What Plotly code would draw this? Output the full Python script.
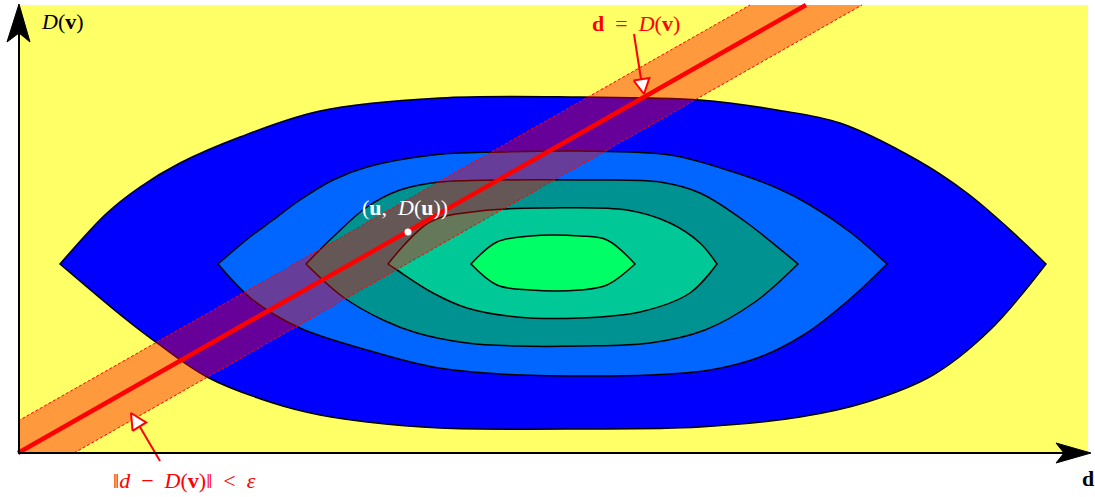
import plotly.graph_objects as go

# ---- canvas / diagram coordinates (pixel-like units, y grows downwards) ----
W, H = 1095, 497
PANEL_X = [19, 1088]
PANEL_Y = [5, 453]

# ---- nested level sets (top edge and bottom edge, left tip -> right tip) ----
BLUE_TOP_X = [60, 107, 140, 180, 240, 320, 440, 580, 700, 777, 840, 917, 967, 1007, 1046]
BLUE_TOP_Y = [264, 213, 187, 163, 137, 111, 98, 97, 100, 110, 123, 160, 193, 227, 264]
BLUE_BOT_X = [60, 123, 157, 207, 273, 320, 367, 440, 580, 700, 800, 867, 933, 990, 1046]
BLUE_BOT_Y = [264, 317, 343, 377, 403, 415, 422, 428, 429, 427, 417, 402, 375, 330, 264]

LBLUE_TOP_X = [218, 250, 273, 300, 333, 367, 433, 500, 580, 670, 727, 777, 810, 850, 887]
LBLUE_TOP_Y = [264, 237, 220, 200, 180, 167, 155, 152, 151, 155, 170, 188, 205, 232, 264]
LBLUE_BOT_X = [218, 253, 300, 367, 433, 500, 580, 650, 710, 760, 805, 850, 887]
LBLUE_BOT_Y = [264, 300, 328, 350, 367, 374, 376, 375, 370, 357, 334, 299, 264]

TEAL_TOP_X = [306, 333, 367, 400, 440, 500, 580, 660, 700, 743, 798]
TEAL_TOP_Y = [264, 237, 207, 190, 182, 180, 180, 182, 193, 220, 264]
TEAL_BOT_X = [306, 343, 383, 417, 467, 517, 580, 650, 705, 755, 798]
TEAL_BOT_Y = [264, 297, 320, 333, 343, 346, 346, 343, 330, 302, 264]

MINT_TOP_X = [388, 430, 480, 547, 627, 670, 700, 717]
MINT_TOP_Y = [264, 222, 211, 208, 210, 223, 243, 264]
MINT_BOT_X = [388, 397, 433, 467, 517, 580, 640, 690, 717]
MINT_BOT_Y = [264, 270, 293, 308, 317, 318, 312, 293, 264]

GREEN_TOP_X = [471, 497, 530, 580, 607, 635]
GREEN_TOP_Y = [264, 242, 236, 236, 240, 264]
GREEN_BOT_X = [471, 497, 530, 580, 607, 635]
GREEN_BOT_Y = [264, 285, 290, 290, 285, 264]

LEVELS = [
    ("#0000ff", BLUE_TOP_X, BLUE_TOP_Y, BLUE_BOT_X, BLUE_BOT_Y),
    ("#0066ff", LBLUE_TOP_X, LBLUE_TOP_Y, LBLUE_BOT_X, LBLUE_BOT_Y),
    ("#009191", TEAL_TOP_X, TEAL_TOP_Y, TEAL_BOT_X, TEAL_BOT_Y),
    ("#00c896", MINT_TOP_X, MINT_TOP_Y, MINT_BOT_X, MINT_BOT_Y),
    ("#00ff66", GREEN_TOP_X, GREEN_TOP_Y, GREEN_BOT_X, GREEN_BOT_Y),
]

# ---- line d = D(v) and its epsilon band ----
LINE_X = [18, 806]
LINE_Y = [453, 5]
BAND_X = [18, 750, 862, 74, 18]
BAND_Y = [421, 5, 5, 453, 453]
BAND_UPPER_X = [18, 750]
BAND_UPPER_Y = [421, 5]
BAND_LOWER_X = [74, 862]
BAND_LOWER_Y = [453, 5]

POINT_U = (408, 232)

# ---- callout arrows (open triangles) ----
TOP_ARROW_LINE_X = [634, 641]
TOP_ARROW_LINE_Y = [34, 79]
TOP_ARROW_HEAD_X = [633.6, 649.4, 644]
TOP_ARROW_HEAD_Y = [80.5, 77.9, 94]
BOT_ARROW_LINE_X = [160, 140]
BOT_ARROW_LINE_Y = [461, 427]
BOT_ARROW_HEAD_X = [132.6, 146.2, 131]
BOT_ARROW_HEAD_Y = [430.8, 422.4, 413]

# ---- axes arrows ----
VAXIS_X = [19, 19]
VAXIS_Y = [454, 32]
VHEAD_X = [19, 30, 19, 7]
VHEAD_Y = [4, 42, 33, 42]
HAXIS_X = [18, 1066]
HAXIS_Y = [453, 453]
HHEAD_X = [1091, 1056, 1064, 1056]
HHEAD_Y = [453, 443, 453, 463]

EN = "\u2002"
LABELS = [
    ("<i>D</i>(<b>v</b>)", 62, 21, "black"),
    ("<b>d</b>", 1088, 478, "black"),
    ("(<b>u</b>," + EN + "<i>D</i>(<b>u</b>))", 405, 207, "white"),
    ("<b>d</b>" + EN + "=" + EN + "<i>D</i>(<b>v</b>)", 636, 23, "red"),
    ("‖<i>d</i>" + EN + "−" + EN + "<i>D</i>(<b>v</b>)‖" + EN + "&lt;" + EN + "<i>ε</i>", 184, 480, "red"),
]

FONT = "Liberation Serif"

fig = go.Figure()

shapes = [dict(type="rect", xref="x", yref="y", x0=PANEL_X[0], x1=PANEL_X[1],
               y0=PANEL_Y[0], y1=PANEL_Y[1], fillcolor="#ffff66",
               line=dict(width=0), layer="below")]

for color, tx, ty, bx, by in LEVELS:
    L = (tx[0], ty[0])
    R = (tx[-1], ty[-1])
    xs = [L[0]] + tx[1:-1] + [R[0], R[0]] + bx[::-1][1:-1] + [L[0], L[0]]
    ys = [L[1]] + ty[1:-1] + [R[1], R[1]] + by[::-1][1:-1] + [L[1], L[1]]
    fig.add_trace(go.Scatter(x=xs, y=ys, mode="lines", fill="toself", fillcolor=color,
                             line=dict(color="black", width=1.5, shape="spline",
                                       smoothing=1, simplify=False),
                             hoverinfo="skip", showlegend=False))

# band
fig.add_trace(go.Scatter(x=BAND_X, y=BAND_Y, mode="lines", fill="toself",
                         fillcolor="rgba(255,0,0,0.4)", line=dict(width=0),
                         hoverinfo="skip", showlegend=False))
for ex, ey in [(BAND_UPPER_X, BAND_UPPER_Y), (BAND_LOWER_X, BAND_LOWER_Y)]:
    fig.add_trace(go.Scatter(x=ex, y=ey, mode="lines",
                             line=dict(color="red", width=1, dash="3px,2px"),
                             hoverinfo="skip", showlegend=False))
fig.add_trace(go.Scatter(x=LINE_X, y=LINE_Y, mode="lines",
                         line=dict(color="red", width=4.5),
                         hoverinfo="skip", showlegend=False))
fig.add_trace(go.Scatter(x=[POINT_U[0]], y=[POINT_U[1]], mode="markers",
                         marker=dict(color="white", size=7),
                         hoverinfo="skip", showlegend=False))

# callout arrows
for lx, ly, hx, hy in [(TOP_ARROW_LINE_X, TOP_ARROW_LINE_Y, TOP_ARROW_HEAD_X, TOP_ARROW_HEAD_Y),
                       (BOT_ARROW_LINE_X, BOT_ARROW_LINE_Y, BOT_ARROW_HEAD_X, BOT_ARROW_HEAD_Y)]:
    fig.add_trace(go.Scatter(x=lx, y=ly, mode="lines", line=dict(color="red", width=2),
                             hoverinfo="skip", showlegend=False))
    fig.add_trace(go.Scatter(x=hx + [hx[0]], y=hy + [hy[0]], mode="lines", fill="toself",
                             fillcolor="white", line=dict(color="red", width=2),
                             hoverinfo="skip", showlegend=False))

# axes
fig.add_trace(go.Scatter(x=VAXIS_X, y=VAXIS_Y, mode="lines", line=dict(color="black", width=2),
                         hoverinfo="skip", showlegend=False))
fig.add_trace(go.Scatter(x=HAXIS_X, y=HAXIS_Y, mode="lines", line=dict(color="black", width=2),
                         hoverinfo="skip", showlegend=False))
for hx, hy in [(VHEAD_X, VHEAD_Y), (HHEAD_X, HHEAD_Y)]:
    fig.add_trace(go.Scatter(x=hx + [hx[0]], y=hy + [hy[0]], mode="lines", fill="toself",
                             fillcolor="black", line=dict(color="black", width=1),
                             hoverinfo="skip", showlegend=False))

annotations = [dict(x=x, y=y, xref="x", yref="y", text=t, showarrow=False,
                    font=dict(family=FONT, size=22, color=c), xanchor="center", yanchor="middle")
               for t, x, y, c in LABELS]

fig.update_layout(
    width=W, height=H, margin=dict(l=0, r=0, t=0, b=0),
    paper_bgcolor="white", plot_bgcolor="white",
    xaxis=dict(range=[0, W], visible=False, fixedrange=True),
    yaxis=dict(range=[H, 0], visible=False, fixedrange=True),
    shapes=shapes, annotations=annotations, showlegend=False,
)

fig.write_html("out.html", config={"displayModeBar": False},
               post_script="document.body.style.margin='0';document.body.style.overflow='hidden';")
